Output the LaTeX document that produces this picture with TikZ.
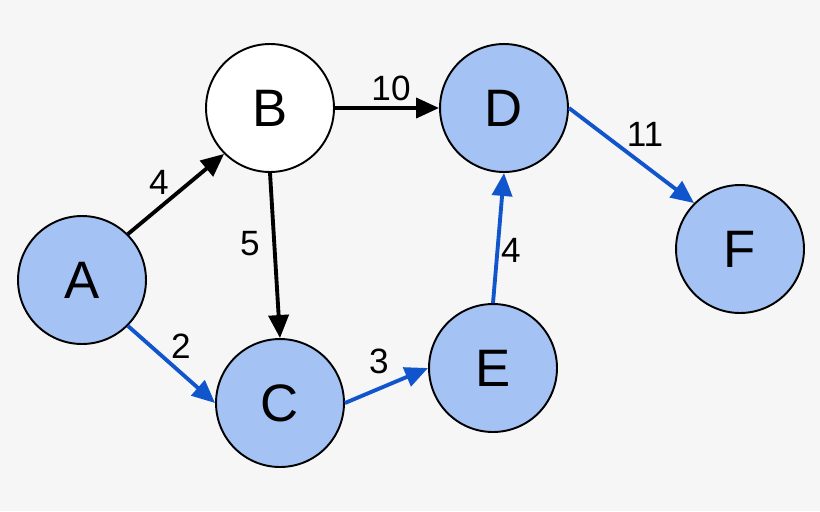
\documentclass[tikz,border=0pt]{standalone}
\usepackage{fontspec}
\setmainfont{Liberation Sans}
\usetikzlibrary{arrows.meta}

\definecolor{vtxblue}{HTML}{A4C2F4}
\definecolor{pathblue}{HTML}{1155CC}
\definecolor{bggray}{HTML}{F6F6F6}

\tikzset{
  vtx/.style={circle, draw, line width=1.1pt, minimum size=2.56cm, inner sep=0pt,
    font=\fontsize{30}{36}\selectfont},
  seen/.style={vtx, fill=vtxblue},
  unseen/.style={vtx, fill=white},
  edg/.style={line width=2.2pt, -{Triangle[length=0.46cm,width=0.4cm]}},
  tree/.style={edg, draw=pathblue, fill=pathblue},
  wt/.style={font=\fontsize{20}{24}\selectfont, inner sep=0pt},
}

\begin{document}
\begin{tikzpicture}[x=0.02cm, y=-0.02cm]
        \fill[bggray] (0,0) rectangle (820,511);
        \useasboundingbox (0,0) rectangle (820,511);

        % vertices
        \node[seen]   (A) at (82,280)  {A};
        \node[unseen] (B) at (270,108) {B};
        \node[seen]   (C) at (280,403) {C};
        \node[seen]   (D) at (504,108) {D};
        \node[seen]   (E) at (493,368) {E};
        \node[seen]   (F) at (740,249) {F};

        % edges, anchor to anchor
        \draw[edg]  (A.north east) -- (B.south west);
        \draw[edg]  (B.east) -- (D.west);
        \draw[edg]  (B.south) -- (C.north);
        \draw[tree] (A.south east) -- (C.west);
        \draw[tree] (C.east) -- (E.west);
        \draw[tree] (E.north) -- (D.south);
        \draw[tree] (D.east) -- (F.north west);

        % weights
        \node[wt] (wAB) at (159,182) {4};
        \node[wt] (wBD) at (391,88)  {10};
        \node[wt] (wBC) at (250,244) {5};
        \node[wt] (wAC) at (181,346) {2};
        \node[wt] (wCE) at (379,361) {3};
        \node[wt] (wED) at (511,250) {4};
        \node[wt] (wDF) at (645,134) {11};
    \end{tikzpicture}
\end{document}
